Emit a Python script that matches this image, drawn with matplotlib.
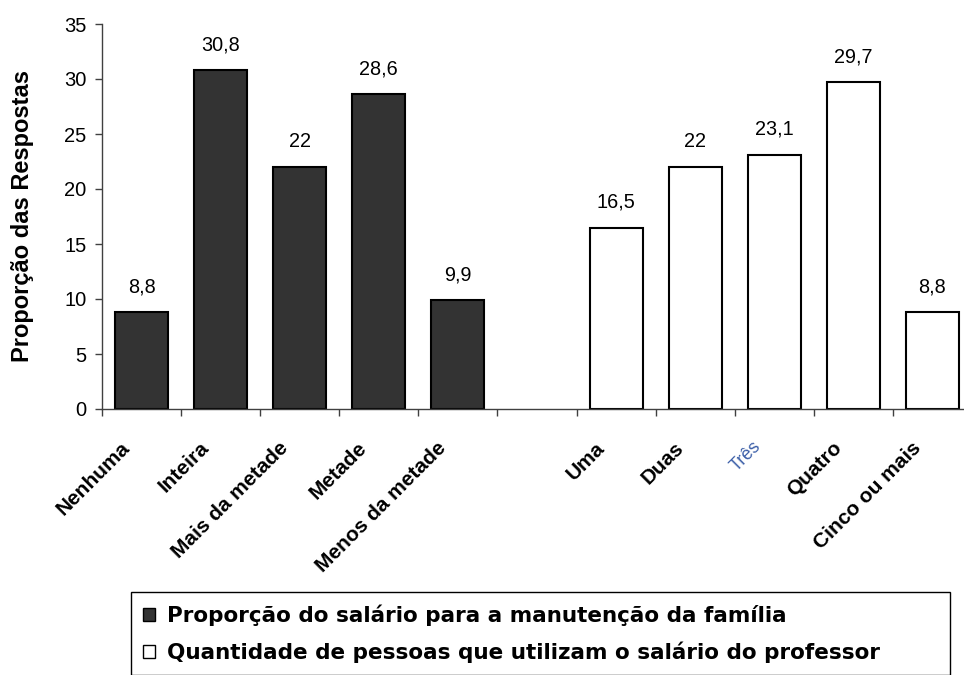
import matplotlib
matplotlib.use("Agg")
import matplotlib.pyplot as plt
from matplotlib.patches import Patch
from matplotlib.ticker import FixedLocator, NullFormatter

# shares of the answers (%)
salario_labels = ["Nenhuma", "Inteira", "Mais da metade", "Metade", "Menos da metade"]
salario_values = [8.8, 30.8, 22, 28.6, 9.9]
pessoas_labels = ["Uma", "Duas", "Três", "Quatro", "Cinco ou mais"]
pessoas_values = [16.5, 22, 23.1, 29.7, 8.8]
legend_labels = ["Proporção do salário para a manutenção da família",
                 "Quantidade de pessoas que utilizam o salário do professor"]
y_ticks = [0, 5, 10, 15, 20, 25, 30, 35]

DARK = "#333333"
FONT = "Liberation Sans"
plt.rcParams["font.family"] = FONT

fig = plt.figure(figsize=(9.64, 6.75), dpi=100)
W, H = 964, 675
ax = fig.add_axes([102 / W, 266 / H, 870 / W, 385 / H])

# one empty slot separates the two groups
x_sal = list(range(len(salario_values)))
x_pes = [len(salario_values) + 1 + i for i in range(len(pessoas_values))]
n_slots = len(x_sal) + 1 + len(x_pes)
bw = 0.67

ax.bar(x_sal, salario_values, width=bw, color=DARK, edgecolor="black", linewidth=1.5)
ax.bar(x_pes, pessoas_values, width=bw, color="white", edgecolor="black", linewidth=1.5)

def fmt(v):
    return ("%g" % v).replace(".", ",")

for x, v in zip(x_sal + x_pes, salario_values + pessoas_values):
    ax.annotate(fmt(v), xy=(x, v), xytext=(0, 14.4), textcoords="offset points",
                ha="center", va="baseline", fontsize=14.3)

ax.set_xlim(-0.5, n_slots - 0.5)
ax.set_ylim(0, 35)
ax.set_yticks(y_ticks)
ax.tick_params(axis="y", labelsize=14.5, length=5, width=1, color="#404040", pad=6)

# tick marks at slot boundaries, labels drawn separately
ax.xaxis.set_major_locator(FixedLocator([]))
ax.xaxis.set_minor_locator(FixedLocator([i - 0.5 for i in range(n_slots + 1)]))
ax.xaxis.set_minor_formatter(NullFormatter())
ax.tick_params(axis="x", which="minor", length=5, width=1, color="#404040")

for s in ("top", "right"):
    ax.spines[s].set_visible(False)
for s in ("left", "bottom"):
    ax.spines[s].set_color("#404040")
    ax.spines[s].set_linewidth(1)

for x, lab in zip(x_sal + x_pes, salario_labels + pessoas_labels):
    style = dict(fontsize=15, fontweight="bold", color="black")
    if lab == "Três":
        style = dict(fontsize=13, fontweight="normal", color="#3c5fa8")
    ax.annotate(lab, xy=(x, 0), xycoords=("data", "axes fraction"),
                xytext=(-15.5, -21), textcoords="offset points",
                ha="right", va="top", rotation=45, rotation_mode="anchor", **style)

fig.text(23 / W, 1 - 216 / H, "Proporção das Respostas", rotation=90,
         ha="center", va="center", fontsize=17, fontweight="bold")

handles = [Patch(facecolor=DARK, edgecolor="black", linewidth=1),
           Patch(facecolor="white", edgecolor="black", linewidth=1)]
leg = fig.legend(handles, legend_labels, loc="upper left",
                 bbox_to_anchor=(131 / W, 1 - 593 / H, 819 / W, 0.001), mode="expand",
                 prop={"family": "DejaVu Sans", "weight": "bold", "size": 15.5},
                 frameon=True, fancybox=False, framealpha=1, borderaxespad=0,
                 handlelength=0.55, handleheight=0.55, handletextpad=0.55,
                 labelspacing=0.72, borderpad=0.55)
leg.get_frame().set_edgecolor("black")
leg.get_frame().set_linewidth(1)

fig.savefig("out.png", dpi=100)
